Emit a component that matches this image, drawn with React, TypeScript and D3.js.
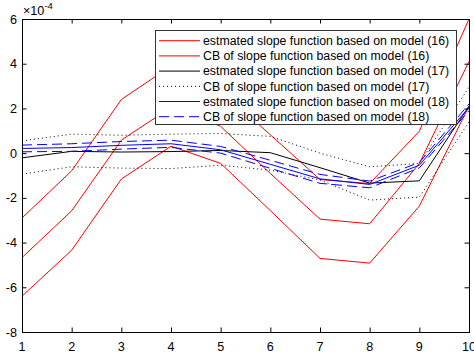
import React from "react";
import * as d3 from "d3";

const xs = [1, 2, 3, 4, 5, 6, 7, 8, 9, 10];
const m16 = [-4.67, -2.58, 0.58, 2.05, 1.2, -0.91, -2.95, -3.16, -0.46, 4.1];
const m16Upper = [-2.9, -0.79, 2.4, 3.9, 2.8, 0.82, -1.18, -1.36, 0.98, 6.0];
const m16Lower = [-6.4, -4.34, -1.16, 0.31, -0.46, -2.57, -4.71, -4.92, -2.37, 2.1];
const m17 = [-0.21, 0.08, 0.05, 0.07, 0.12, 0.02, -0.65, -1.34, -1.24, 2.1];
const m17Upper = [0.55, 0.85, 0.8, 0.85, 0.88, 0.75, 0.0, -0.61, -0.46, 2.95];
const m17Lower = [-0.94, -0.61, -0.67, -0.69, -0.54, -0.76, -1.2, -2.1, -1.97, 1.4];
const m18 = [0.21, 0.25, 0.35, 0.42, 0.15, -0.5, -1.15, -1.4, -0.54, 2.05];
const m18Upper = [0.36, 0.42, 0.52, 0.58, 0.3, -0.32, -0.95, -1.25, -0.42, 2.2];
const m18Lower = [0.06, 0.08, 0.18, 0.26, 0.0, -0.68, -1.35, -1.55, -0.66, 1.9];

const xTicks = [1, 2, 3, 4, 5, 6, 7, 8, 9, 10];
const yTicks = [-8, -6, -4, -2, 0, 2, 4, 6];

const legendLabels = [
  "estmated slope function based on model (16)",
  "CB of slope function based on model (16)",
  "estmated slope function based on model (17)",
  "CB of slope function based on model (17)",
  "estmated slope function based on model (18)",
  "CB of slope function based on model (18)",
];

const FONT = "'Liberation Sans', Arial, Helvetica, sans-serif";

type Style = { color: string; dash?: string };
const styles: Style[] = [
  { color: "#ff0000" },
  { color: "#ff0000" },
  { color: "#000000" },
  { color: "#000000", dash: "1,3" },
  { color: "#0000ff" },
  { color: "#0000ff", dash: "10,5" },
];

export default function App() {
  const W = 474;
  const H = 354;
  const x = d3.scaleLinear().domain([1, 10]).range([22, 469]);
  const y = d3.scaleLinear().domain([-8, 6]).range([332, 19]);
  const line = d3
    .line<number>()
    .x((_, i) => x(xs[i]))
    .y((d) => y(d));

  const series: { data: number[]; s: Style }[] = [
    { data: m16, s: styles[0] },
    { data: m16Upper, s: styles[1] },
    { data: m16Lower, s: styles[1] },
    { data: m17, s: styles[2] },
    { data: m17Upper, s: styles[3] },
    { data: m17Lower, s: styles[3] },
    { data: m18, s: styles[4] },
    { data: m18Upper, s: styles[5] },
    { data: m18Lower, s: styles[5] },
  ];

  const [x0, x1] = x.range();
  const [y0, y1] = y.range();
  const tl = 4.5;

  const legX = 155.5;
  const legY = 30.5;
  const legW = 301;
  const legH = 94;
  const rowY = (i: number) => 40.7 + i * 15.2;

  const tickStyle = { fontSize: "12.6px", fontFamily: FONT };
  const legStyle = { fontSize: "12.3px", fontFamily: FONT };

  return (
    <svg
      width={W}
      height={H}
      style={{ position: "absolute", left: 0, top: 0, background: "#fff" }}
    >
      <rect x={0} y={0} width={W} height={H} fill="#fff" />
      {series.map((sr, i) => (
        <path
          key={i}
          d={line(sr.data) || ""}
          fill="none"
          stroke={sr.s.color}
          strokeWidth={1}
          strokeDasharray={sr.s.dash}
        />
      ))}
      <rect
        x={x0 + 0.5}
        y={y1 + 0.5}
        width={x1 - x0}
        height={y0 - y1}
        fill="none"
        stroke="#000"
        strokeWidth={1}
      />
      {xTicks.map((t) => (
        <g key={"xt" + t}>
          <line x1={x(t) + 0.5} x2={x(t) + 0.5} y1={y0} y2={y0 - tl} stroke="#000" />
          <line x1={x(t) + 0.5} x2={x(t) + 0.5} y1={y1} y2={y1 + tl} stroke="#000" />
          <text x={x(t)} y={351} style={tickStyle} textAnchor="middle" fill="#000">
            {t}
          </text>
        </g>
      ))}
      {yTicks.map((t) => (
        <g key={"yt" + t}>
          <line x1={x0} x2={x0 + tl} y1={y(t) + 0.5} y2={y(t) + 0.5} stroke="#000" />
          <line x1={x1} x2={x1 - tl} y1={y(t) + 0.5} y2={y(t) + 0.5} stroke="#000" />
          <text x={17} y={y(t) + 4.6} style={tickStyle} textAnchor="end" fill="#000">
            {t}
          </text>
        </g>
      ))}
      <text x={23} y={15} style={tickStyle} fill="#000">
        ×10
        <tspan style={{ fontSize: "9.5px" }} dy={-6}>
          -4
        </tspan>
      </text>
      <rect
        x={legX}
        y={legY}
        width={legW}
        height={legH}
        fill="#fff"
        stroke="#333"
        strokeWidth={1}
      />
      {legendLabels.map((lab, i) => (
        <g key={"lg" + i}>
          <line
            x1={159}
            x2={200}
            y1={rowY(i)}
            y2={rowY(i)}
            stroke={styles[i].color}
            strokeDasharray={styles[i].dash}
            strokeWidth={1}
          />
          <text x={203} y={rowY(i) + 4.3} style={legStyle} fill="#000">
            {lab}
          </text>
        </g>
      ))}
    </svg>
  );
}
